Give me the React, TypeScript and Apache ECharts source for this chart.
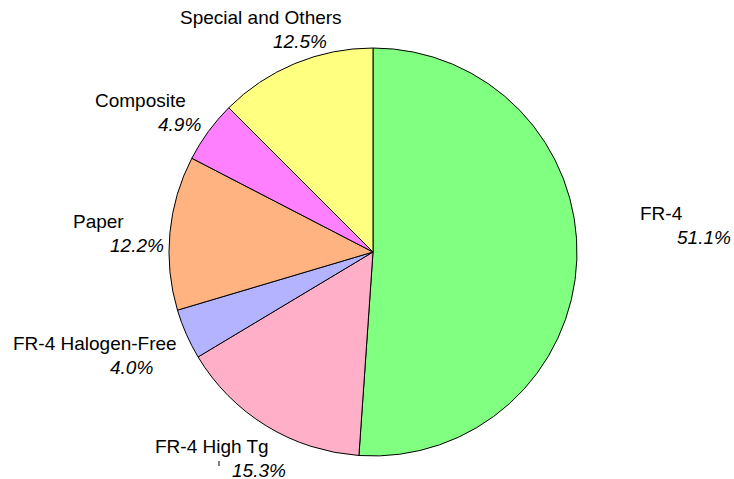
import React, { useEffect, useRef } from "react";
import * as echarts from "echarts";

const categories = ["FR-4", "FR-4 High Tg", "FR-4 Halogen-Free", "Paper", "Composite", "Special and Others"];
const shares = [51.1, 15.3, 4.0, 12.2, 4.9, 12.5];
const colors = ["#80FF80", "#FFB0C8", "#B3B3FF", "#FFB380", "#FF80FF", "#FFFF80"];
// label placement (name left x, name centre y, percentage indent)
const labelX = [640, 155, 13, 73, 95, 180];
const labelY = [213, 446, 343, 221, 100, 17];
const pctIndent = [37, 77, 97, 37, 63, 93];

const FONT = "'Liberation Sans', Arial, sans-serif";

export default function App() {
  const ref = useRef<HTMLDivElement>(null);
  useEffect(() => {
    if (!ref.current) return;
    const chart = echarts.init(ref.current, undefined, { renderer: "svg" });
    const data = categories.map((name, i) => ({
      name,
      value: shares[i],
      itemStyle: { color: colors[i] },
      label: {
        overflow: "none",
        rich: {
          n: { fontFamily: FONT, fontSize: 19, color: "#000", lineHeight: 24 },
          p: {
            fontFamily: FONT,
            fontSize: 19,
            fontStyle: "italic",
            color: "#000",
            lineHeight: 24,
            padding: [0, 0, 0, pctIndent[i]],
          },
        },
      },
    }));
    chart.setOption({
      animation: false,
      backgroundColor: "#ffffff",
      graphic: [
        {
          type: "line",
          shape: { x1: 219, y1: 461, x2: 219, y2: 466 },
          style: { stroke: "#000", lineWidth: 1 },
        },
      ],
      series: [
        {
          type: "pie",
          center: [373, 252],
          radius: [0, 204],
          startAngle: 90,
          clockwise: true,
          itemStyle: { borderColor: "#000", borderWidth: 1 },
          emphasis: { disabled: true },
          label: {
            show: true,
            position: "outside",
            overflow: "none",
            formatter: (p: any) => `{n|${p.name}}\n{p|${Number(p.value).toFixed(1)}%}`,
          },
          labelLine: { show: false },
          labelLayout: (params: any) => ({
            x: labelX[params.dataIndex],
            y: labelY[params.dataIndex] + 12,
            align: "left",
            verticalAlign: "middle",
            hideOverlap: false,
          }),
          data,
        },
      ],
    });
    return () => chart.dispose();
  }, []);
  return (
    <div
      ref={ref}
      style={{ position: "fixed", left: 0, top: 0, width: 734, height: 479 }}
    />
  );
}
